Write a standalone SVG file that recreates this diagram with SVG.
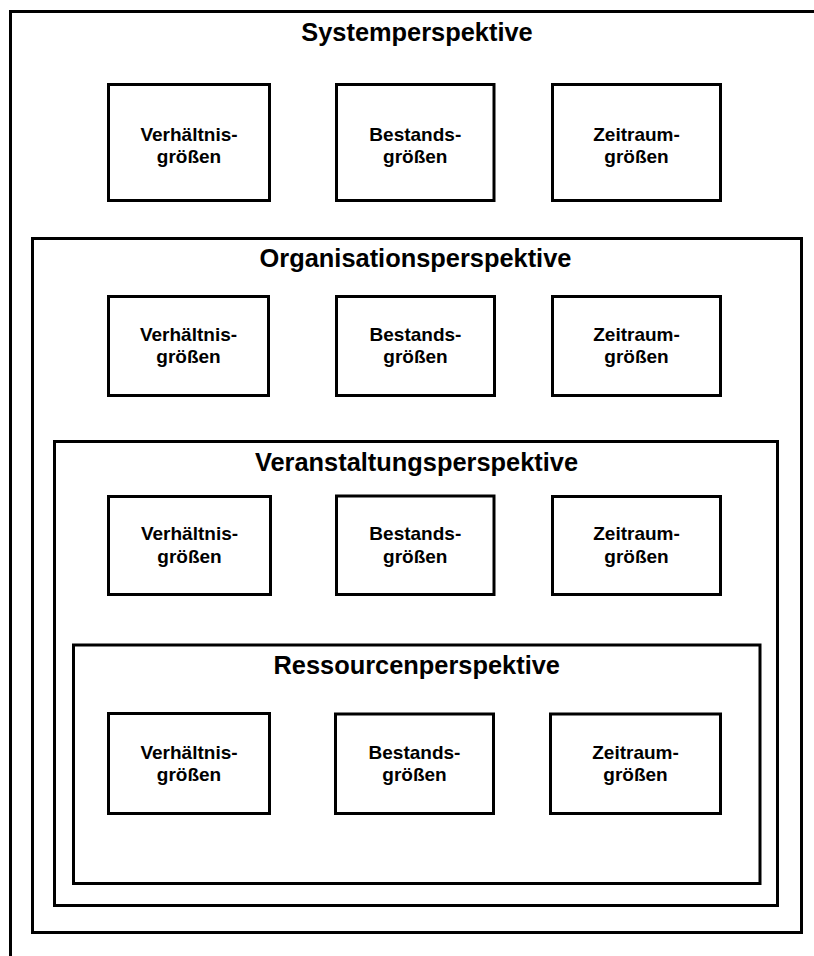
<svg xmlns="http://www.w3.org/2000/svg" width="814" height="956" viewBox="0 0 814 956">
<style>
.frame{fill:none;stroke:#000;stroke-width:3}
.box{fill:#fff;stroke:#000;stroke-width:3}
.title{font-family:"Liberation Sans",Arial,sans-serif;font-weight:bold;font-size:25.4px;text-anchor:middle;fill:#000}
.lbl{font-family:"Liberation Sans",Arial,sans-serif;font-weight:bold;font-size:19px;text-anchor:middle;fill:#000}
</style>
<rect x="0" y="0" width="814" height="956" fill="#fff"/>
<g id="system">
<rect class="frame" x="10.5" y="11.5" width="830" height="970"/>
<text class="title" x="417" y="40.5">Systemperspektive</text>
</g>
<g id="sys-verh"><rect class="box" x="108.5" y="84.5" width="161" height="116"/><text class="lbl" x="189" y="141">Verhältnis-</text><text class="lbl" x="189" y="163">größen</text></g>
<g id="sys-best"><rect class="box" x="336.5" y="84.5" width="157.5" height="116"/><text class="lbl" x="415.3" y="141">Bestands-</text><text class="lbl" x="415.3" y="163">größen</text></g>
<g id="sys-zeit"><rect class="box" x="552.5" y="84.5" width="168" height="116"/><text class="lbl" x="636.5" y="141">Zeitraum-</text><text class="lbl" x="636.5" y="163">größen</text></g>

<g id="organisation">
<rect class="frame" x="32.5" y="238.5" width="769" height="694"/>
<text class="title" x="415.5" y="267.3">Organisationsperspektive</text>
</g>
<g id="org-verh"><rect class="box" x="108.5" y="296.5" width="160" height="99"/><text class="lbl" x="188.5" y="341">Verhältnis-</text><text class="lbl" x="188.5" y="363.3">größen</text></g>
<g id="org-best"><rect class="box" x="336.5" y="296.5" width="158" height="99"/><text class="lbl" x="415.5" y="341">Bestands-</text><text class="lbl" x="415.5" y="363.3">größen</text></g>
<g id="org-zeit"><rect class="box" x="552.5" y="296.5" width="168" height="99"/><text class="lbl" x="636.5" y="341">Zeitraum-</text><text class="lbl" x="636.5" y="363.3">größen</text></g>

<g id="veranstaltung">
<rect class="frame" x="54.5" y="441.5" width="723" height="464"/>
<text class="title" x="416.5" y="470.7">Veranstaltungsperspektive</text>
</g>
<g id="ver-verh"><rect class="box" x="108.5" y="496.5" width="162" height="98"/><text class="lbl" x="189.5" y="540">Verhältnis-</text><text class="lbl" x="189.5" y="562.7">größen</text></g>
<g id="ver-best"><rect class="box" x="336.5" y="496" width="157.5" height="98.5"/><text class="lbl" x="415.3" y="540">Bestands-</text><text class="lbl" x="415.3" y="562.7">größen</text></g>
<g id="ver-zeit"><rect class="box" x="552.5" y="496.5" width="168" height="98"/><text class="lbl" x="636.5" y="540">Zeitraum-</text><text class="lbl" x="636.5" y="562.7">größen</text></g>

<g id="ressourcen">
<rect class="frame" x="73.5" y="645" width="686.5" height="238.5"/>
<text class="title" x="416.7" y="674">Ressourcenperspektive</text>
</g>
<g id="res-verh"><rect class="box" x="108.5" y="713.5" width="161" height="100"/><text class="lbl" x="189" y="758.5">Verhältnis-</text><text class="lbl" x="189" y="781">größen</text></g>
<g id="res-best"><rect class="box" x="335.5" y="714" width="158" height="99.5"/><text class="lbl" x="414.5" y="758.5">Bestands-</text><text class="lbl" x="414.5" y="781">größen</text></g>
<g id="res-zeit"><rect class="box" x="550.5" y="714" width="170" height="99.5"/><text class="lbl" x="635.5" y="758.5">Zeitraum-</text><text class="lbl" x="635.5" y="781">größen</text></g>

<g id="connectors"></g>
</svg>
